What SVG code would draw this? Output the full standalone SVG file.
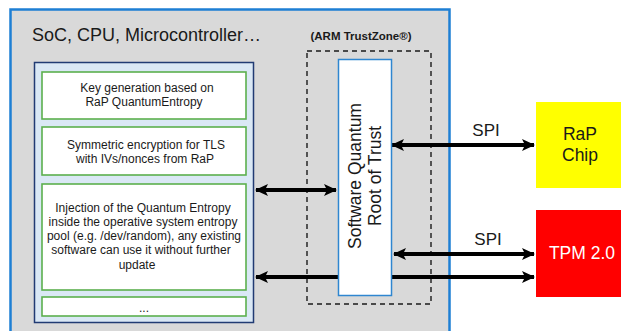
<svg xmlns="http://www.w3.org/2000/svg" width="621" height="331" viewBox="0 0 621 331">
<defs>
<style>
text{font-family:"Liberation Sans",Arial,Helvetica,sans-serif;fill:#1a1a1a}
.box{fill:#fff;stroke:#5cb04e;stroke-width:1.6}
.t12{font-size:12px;text-anchor:middle}
.conn{stroke:#000;stroke-width:4;fill:none}
.spi{font-size:17px;text-anchor:middle}
</style>
<marker id="ah" viewBox="0 0 13 12" refX="12" refY="6" markerWidth="13" markerHeight="12" markerUnits="userSpaceOnUse" orient="auto-start-reverse">
<path d="M0,0 L13,6 L0,12 L3,6 Z" fill="#000"/>
</marker>
</defs>
<rect width="621" height="331" fill="#fff"/>
<g id="soc">
<rect x="10.5" y="9.5" width="439" height="340" fill="#d9d9d9" stroke="#1e7fd4" stroke-width="2.5"/>
<text x="32" y="41" font-size="18">SoC, CPU, Microcontroller…</text>
</g>
<g id="trustzone">
<rect x="307" y="51" width="124" height="253" fill="none" stroke="#1a1a1a" stroke-width="1.4" stroke-dasharray="5,4"/>
<text x="361" y="40" font-size="11.5" font-weight="bold" text-anchor="middle">(ARM TrustZone®)</text>
</g>
<g id="apps">
<rect x="34.5" y="62.5" width="219" height="260" fill="#dae8f5" stroke="#213b73" stroke-width="1.5"/>
</g>
<g id="keygen">
<rect class="box" x="42" y="72" width="204" height="47"/>
<text class="t12" x="147" y="92">Key generation based on</text>
<text class="t12" x="144" y="106">RaP QuantumEntropy</text>
</g>
<g id="symenc">
<rect class="box" x="42" y="127" width="204" height="48"/>
<text class="t12" x="146" y="149">Symmetric encryption for TLS</text>
<text class="t12" x="145" y="163">with IVs/nonces from RaP</text>
</g>
<g id="injection">
<rect class="box" x="42" y="184" width="204" height="106"/>
<text class="t12" x="143" y="212">Injection of the Quantum Entropy</text>
<text class="t12" x="143" y="226">inside the operative system entropy</text>
<text class="t12" x="144" y="240">pool (e.g. /dev/random), any existing</text>
<text class="t12" x="141" y="254">software can use it without further</text>
<text class="t12" x="137" y="269">update</text>
</g>
<g id="more">
<rect class="box" x="42" y="297" width="204" height="19"/>
<text class="t12" x="144" y="312">...</text>
</g>
<g id="connectors">
<line class="conn" x1="392" y1="145" x2="534" y2="145" marker-start="url(#ah)" marker-end="url(#ah)"/>
<line class="conn" x1="256" y1="190" x2="336" y2="190" marker-start="url(#ah)" marker-end="url(#ah)"/>
<line class="conn" x1="394" y1="254" x2="534" y2="254" marker-start="url(#ah)" marker-end="url(#ah)"/>
<line class="conn" x1="256" y1="277" x2="534" y2="277" marker-start="url(#ah)" marker-end="url(#ah)"/>
<text class="spi" x="486" y="136">SPI</text>
<text class="spi" x="488" y="245">SPI</text>
</g>
<g id="qrot">
<rect x="338.5" y="59.5" width="53" height="236" fill="#fff" stroke="#2f86d0" stroke-width="1.5"/>
<g transform="translate(365,176) rotate(-90)" font-size="17.5" text-anchor="middle">
<text x="0" y="-4">Software Quantum</text>
<text x="0" y="16">Root of Trust</text>
</g>
</g>
<g id="rap">
<rect x="536" y="102" width="85" height="86" fill="#ffff00"/>
<text x="580" y="140" font-size="17.5" text-anchor="middle">RaP</text>
<text x="580" y="161" font-size="17.5" text-anchor="middle">Chip</text>
</g>
<g id="tpm">
<rect x="536" y="210" width="85" height="87" fill="#ff0000"/>
<text x="582" y="259" font-size="17.5" text-anchor="middle" style="fill:#fff">TPM 2.0</text>
</g>
</svg>
